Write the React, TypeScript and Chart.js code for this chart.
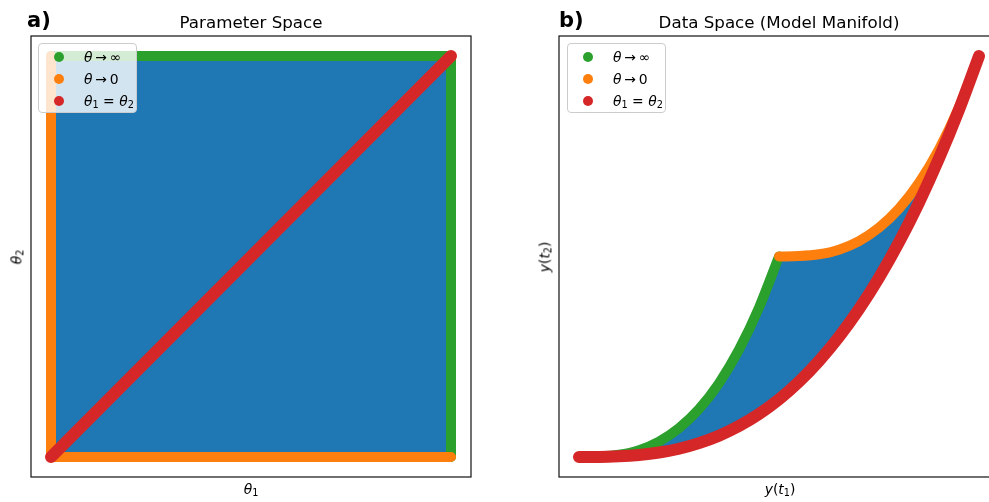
import React, { useEffect, useRef } from 'react';
import { Chart, registerables } from 'chart.js';

Chart.register(...registerables);

const BLUE = '#1f77b4';
const ORANGE = '#ff7f0e';
const GREEN = '#2ca02c';
const RED = '#d62728';

// ---- Parameter space (θ1, θ2), rescaled to the unit square ----
const paramFillX = [0, 0, 1, 1, 0];
const paramFillY = [0, 1, 1, 0, 0];
const paramInfX = [0, 1, 1];
const paramInfY = [1, 1, 0];
const paramZeroX = [0, 0, 1];
const paramZeroY = [1, 0, 0];
const paramDiagX = [0, 1];
const paramDiagY = [0, 1];

// ---- Data space (y(t1), y(t2)) ----
const manInfX = [0, 0.1, 0.2, 0.3, 0.4, 0.5, 0.6, 0.7, 0.8, 0.9, 1.0];
const manInfY = [0, 0.002, 0.011, 0.034, 0.077, 0.144, 0.239, 0.368, 0.535, 0.745, 1.0];
const manZeroX = [1.0, 1.1, 1.2, 1.3, 1.4, 1.5, 1.6, 1.7, 1.8, 1.9, 2.0];
const manZeroY = [1.0, 1.002, 1.011, 1.034, 1.077, 1.144, 1.239, 1.368, 1.535, 1.745, 2.0];
const manDiagX = [0, 0.1, 0.2, 0.3, 0.4, 0.5, 0.6, 0.7, 0.8, 0.9, 1.0, 1.1, 1.2, 1.3, 1.4, 1.5, 1.6, 1.7, 1.8, 1.9, 2.0];
const manDiagY = [0, 0.0, 0.003, 0.010, 0.022, 0.041, 0.069, 0.106, 0.154, 0.214, 0.287, 0.375, 0.479, 0.599, 0.737, 0.894, 1.071, 1.269, 1.489, 1.732, 2.0];

const legendLabels = ['θ → ∞', 'θ → 0', 'θ₁ = θ₂'];

const pts = (xs: number[], ys: number[]) => xs.map((x, i) => ({ x, y: ys[i] }));

const framePlugin = {
  id: 'frame',
  afterDraw(chart: any) {
    const { ctx, chartArea: a } = chart;
    ctx.save();
    ctx.strokeStyle = '#111';
    ctx.lineWidth = 1.2;
    ctx.strokeRect(a.left, a.top, a.right - a.left, a.bottom - a.top);
    ctx.restore();
  },
};

function lineDs(data: any[], color: string, width: number, order: number, smooth: boolean) {
  return {
    data,
    borderColor: color,
    backgroundColor: color,
    borderWidth: width,
    borderCapStyle: 'round',
    borderJoinStyle: 'round',
    pointRadius: 0,
    fill: false,
    order,
    tension: 0,
    cubicInterpolationMode: smooth ? 'monotone' : 'default',
  };
}

function fillDs(data: any[], order: number) {
  return {
    data,
    borderWidth: 0,
    borderColor: 'rgba(0,0,0,0)',
    backgroundColor: BLUE,
    pointRadius: 0,
    fill: 'shape',
    order,
    tension: 0,
  };
}

function makeOptions(min: number, max: number, padding: any) {
  return {
    responsive: false,
    animation: false,
    events: [],
    layout: { padding },
    plugins: { legend: { display: false }, tooltip: { enabled: false }, title: { display: false } },
    scales: {
      x: { type: 'linear', min, max, display: false },
      y: { type: 'linear', min, max, display: false },
    },
  };
}

const FONT = '"DejaVu Sans", sans-serif';

function Legend({ left, top }: { left: number; top: number }) {
  const colors = [GREEN, ORANGE, RED];
  const renderLabel = (i: number) => {
    if (i === 0) return (<span><i>θ</i>{'\u2009→\u2009∞'}</span>);
    if (i === 1) return (<span><i>θ</i>{'\u2009→\u20090'}</span>);
    return (
      <span>
        <i>θ</i><sub style={{ fontSize: '0.7em', verticalAlign: '-0.25em' }}>1</sub>{' = '}<i>θ</i>
        <sub style={{ fontSize: '0.7em', verticalAlign: '-0.25em' }}>2</sub>
      </span>
    );
  };
  return (
    <div
      style={{
        position: 'absolute', left, top, width: 99, height: 70,
        border: '1px solid #cccccc', borderRadius: 4, background: 'rgba(255,255,255,0.8)',
        boxSizing: 'border-box', fontFamily: FONT, fontSize: 13.9, color: '#000',
      }}
    >
      {legendLabels.map((lab, i) => (
        <div key={lab} style={{ position: 'absolute', left: 0, top: 14 + i * 22 - 11 - 1, height: 22, width: 99 }}>
          <div style={{ position: 'absolute', left: 15, top: 6, width: 10, height: 10, borderRadius: 5, background: colors[i] }} />
          <div style={{ position: 'absolute', left: 45, top: 0, lineHeight: '22px', whiteSpace: 'nowrap' }}>{renderLabel(i)}</div>
        </div>
      ))}
    </div>
  );
}

function Txt({ x, base, size, bold, children, center }: any) {
  return (
    <div
      style={{
        position: 'absolute', left: x, top: base - 0.846 * size, fontFamily: FONT, fontSize: size,
        lineHeight: 1, fontWeight: bold ? 'bold' : 'normal', whiteSpace: 'nowrap', color: '#000',
        transform: center ? 'translateX(-50%)' : undefined,
      }}
    >
      {children}
    </div>
  );
}

function VTxt({ x, y, size, children }: any) {
  return (
    <div
      style={{
        position: 'absolute', left: x, top: y, fontFamily: FONT, fontSize: size, lineHeight: 1,
        whiteSpace: 'nowrap', color: '#000', transform: 'translate(-50%,-50%) rotate(-90deg)',
      }}
    >
      {children}
    </div>
  );
}

export default function App() {
  const leftRef = useRef<HTMLCanvasElement>(null);
  const rightRef = useRef<HTMLCanvasElement>(null);

  useEffect(() => {
    const c1 = new Chart(leftRef.current as HTMLCanvasElement, {
      type: 'line',
      data: {
        datasets: [
          lineDs(pts(paramDiagX, paramDiagY), RED, 12, 0, false),
          lineDs(pts(paramZeroX, paramZeroY), ORANGE, 10, 1, false),
          lineDs(pts(paramInfX, paramInfY), GREEN, 10, 2, false),
          fillDs(pts(paramFillX, paramFillY), 3),
        ] as any,
      },
      options: makeOptions(-0.05, 1.05, { left: 31, right: 23, top: 36, bottom: 25 }) as any,
      plugins: [framePlugin],
    });

    const outline = [
      ...pts(manInfX, manInfY),
      ...pts(manZeroX, manZeroY),
      ...pts(manDiagX, manDiagY).reverse(),
    ];
    const c2 = new Chart(rightRef.current as HTMLCanvasElement, {
      type: 'line',
      data: {
        datasets: [
          lineDs(pts(manDiagX, manDiagY), RED, 12, 0, true),
          lineDs(pts(manZeroX, manZeroY), ORANGE, 10, 1, true),
          lineDs(pts(manInfX, manInfY), GREEN, 10, 2, true),
          fillDs(outline, 3),
        ] as any,
      },
      options: makeOptions(-0.1, 2.1, { left: 65, right: 11, top: 36, bottom: 25 }) as any,
      plugins: [framePlugin],
    });
    return () => {
      c1.destroy();
      c2.destroy();
    };
  }, []);

  return (
    <div style={{ position: 'fixed', left: 0, top: 0, width: 989, height: 502, overflow: 'hidden', background: '#fff' }}>
      <canvas ref={leftRef} width={494} height={502} style={{ position: 'absolute', left: 0, top: 0, display: 'block' }} />
      <canvas ref={rightRef} width={516} height={502} style={{ position: 'absolute', left: 494, top: 0, display: 'block' }} />

      <Txt x={27} base={28} size={21} bold>a)</Txt>
      <Txt x={559} base={28} size={21} bold>b)</Txt>
      <Txt x={251} base={28} size={16.7} center>Parameter Space</Txt>
      <Txt x={779} base={28} size={16.7} center>Data Space (Model Manifold)</Txt>

      <Txt x={251} base={495} size={13.9} center>
        <i>θ</i><sub style={{ fontSize: '0.7em', verticalAlign: '-0.25em' }}>1</sub>
      </Txt>
      <Txt x={780} base={495} size={13.9} center>
        <i>y</i>(<i>t</i><sub style={{ fontSize: '0.7em', verticalAlign: '-0.25em' }}>1</sub>)
      </Txt>
      <VTxt x={18} y={257} size={13.9}>
        <i>θ</i><sub style={{ fontSize: '0.7em', verticalAlign: '-0.25em' }}>2</sub>
      </VTxt>
      <VTxt x={546} y={257} size={13.9}>
        <i>y</i>(<i>t</i><sub style={{ fontSize: '0.7em', verticalAlign: '-0.25em' }}>2</sub>)
      </VTxt>

      <Legend left={38} top={43} />
      <Legend left={567} top={43} />
    </div>
  );
}
